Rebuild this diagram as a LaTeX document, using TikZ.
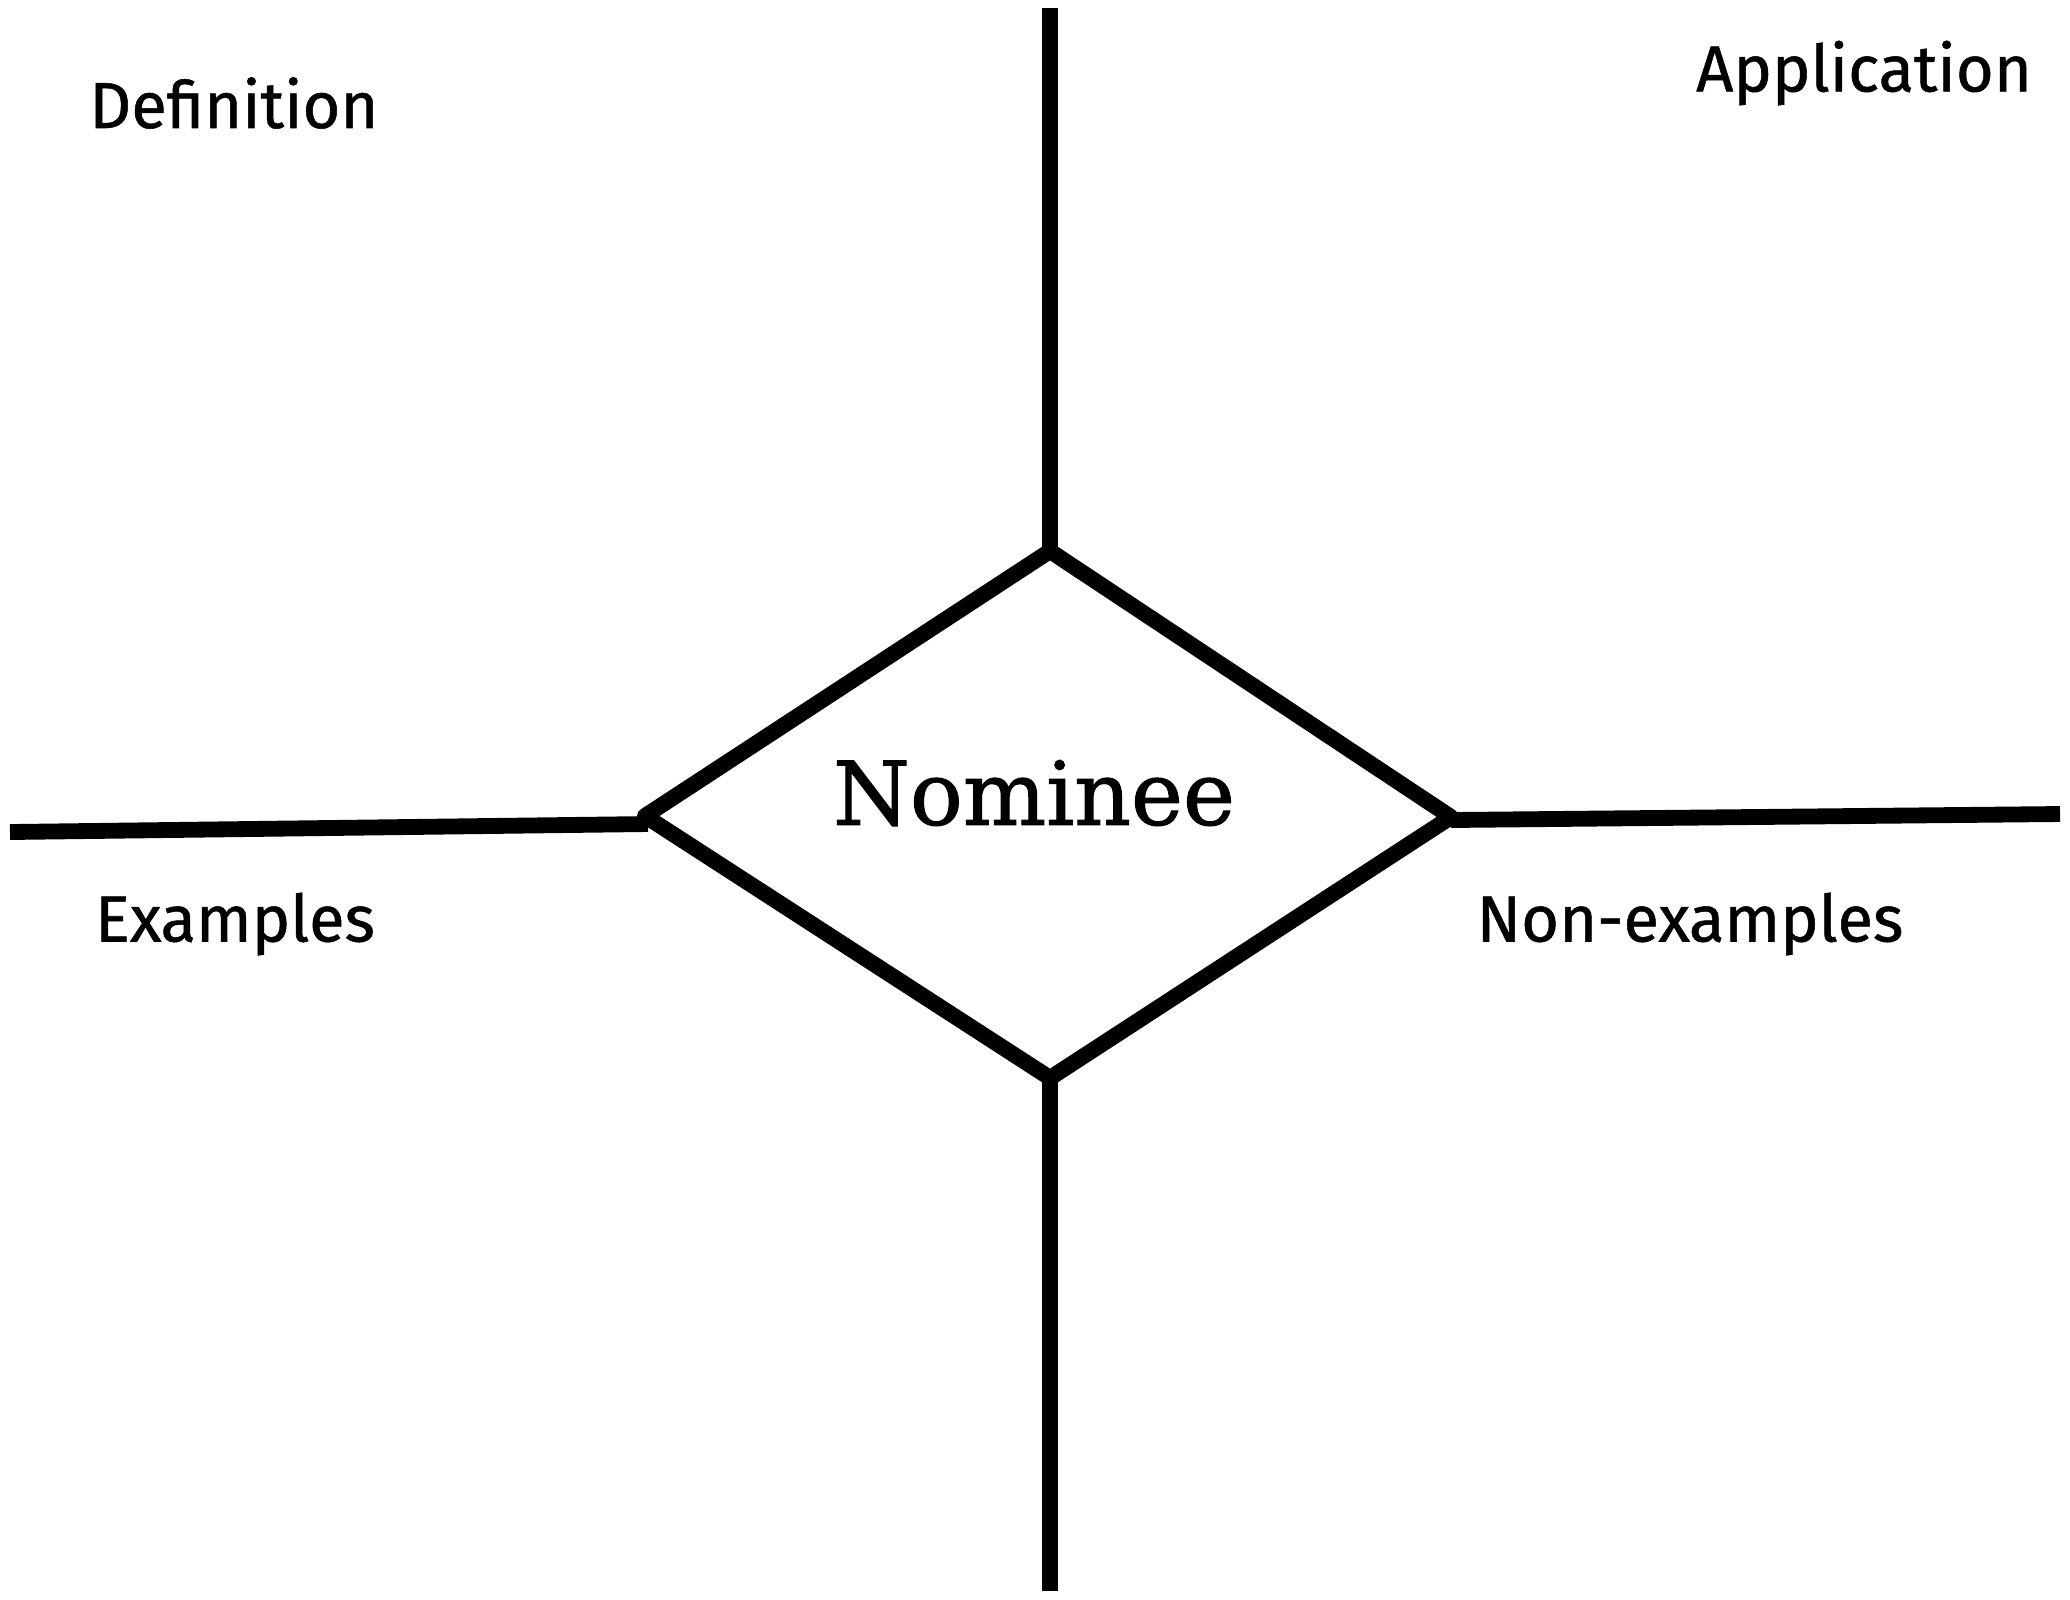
\documentclass[tikz,border=0pt]{standalone}
\usepackage{fontspec}
\setmainfont{Fira Sans}
\newfontfamily\labfont{Fira Sans}[FakeBold=0.8]
\newfontfamily\nomfont{DejaVu Serif}[FakeBold=1.2]
\usetikzlibrary{positioning}

\begin{document}
\begin{tikzpicture}[x=0.01cm, y=-0.01cm,
    bar/.style={line width=4.5pt, line join=round},
    quadlabel/.style={font=\labfont\fontsize{18.5}{22}\selectfont},
    termlabel/.style={font=\nomfont\fontsize{25}{30}\selectfont}]
    \useasboundingbox (0,0) rectangle (2070,1599);
    \coordinate (dtop) at (1050,551);
    \coordinate (dleft) at (645,816);
    \coordinate (dright) at (1451,817);
    \coordinate (dbot) at (1050,1078);
    \coordinate (vtop) at (1050,8);
    \coordinate (vbot) at (1050,1591);
    \coordinate (hleft) at (10,832);
    \coordinate (hljoin) at (648,824);
    \coordinate (hrjoin) at (1451,820);
    \coordinate (hright) at (2060,814);
    \draw[bar] (dtop) -- (dright) -- (dbot) -- (dleft) -- cycle;
    \draw[bar] (vtop) -- (dtop);
    \draw[bar] (dbot) -- (vbot);
    \draw[bar] (hleft) -- (hljoin);
    \draw[bar] (hrjoin) -- (hright);
    \node[termlabel] (term) at (1034,793) {Nominee};
    \node[quadlabel] (defn) at (234,103) {Definition};
    \node[quadlabel] (appl) at (1864,73) {Application};
    \node[quadlabel] (exmp) at (235,924) {Examples};
    \node[quadlabel] (nonex) at (1690,924) {Non-examples};
\end{tikzpicture}
\end{document}
